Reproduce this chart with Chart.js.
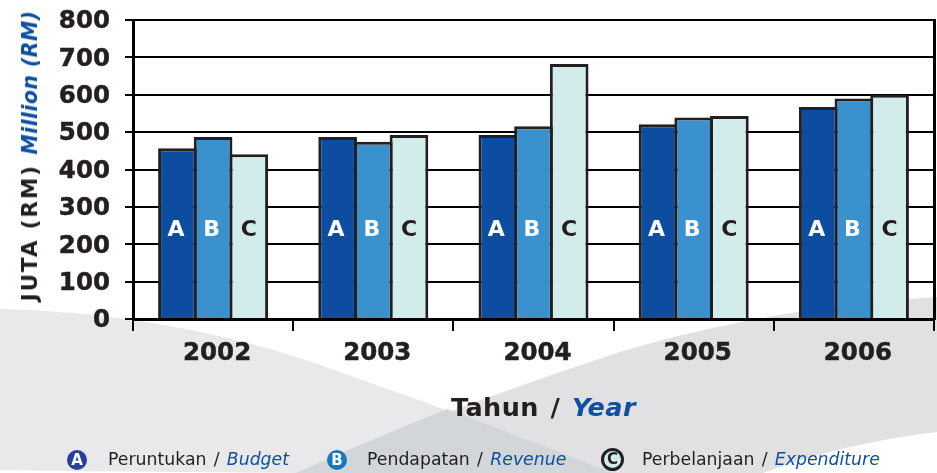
<!DOCTYPE html>
<html>
<head>
<meta charset="utf-8">
<title>Peruntukan, Pendapatan, Perbelanjaan</title>
<script src="https://cdn.jsdelivr.net/npm/chart.js@4/dist/chart.umd.min.js"></script>
<style>
  html, body { margin: 0; padding: 0; background: #fff; }
  body { width: 937px; height: 473px; position: relative; overflow: hidden; font-family: "DejaVu Sans", sans-serif; color: #231f20; }
  #bg, #chart, .txt { position: absolute; }
  #bg { left: 0; top: 0; }
  #chart { left: 0; top: 0; }
  .blue { color: #0d4fa0; font-style: italic; }
  .txt { white-space: pre; }
  #xTitle { left: 451px; top: 391px; font-size: 25.5px; font-weight: bold; line-height: 32px; word-spacing: 2.5px; letter-spacing: 0.4px; }
  #yTitle { left: 30px; top: 156px; font-size: 21.5px; font-weight: bold; line-height: 28px; transform: translate(-50%, -50%) rotate(-90deg); letter-spacing: 1.9px; }
  #yTitle .blue { font-size: 20.5px; letter-spacing: 0.4px; }
  .leg { top: 449px; font-size: 17.3px; line-height: 21px; word-spacing: 1.8px; }
  .badge { position: absolute; top: 450px; width: 20px; height: 20px; border-radius: 50%; font-size: 15px; font-weight: bold; line-height: 20px; text-align: center; color: #fff; box-sizing: border-box; }
</style>
</head>
<body>
<svg id="bg" width="937" height="473">
  <path fill="#e9e9eb" d="M0 309 C 130 312 250 338 340 372 C 430 404 530 440 612 473 L 296 473 C 200 472 90 472 0 470 Z"/>
  <path fill="#e1e1e4" d="M296 473 C 400 428 500 392 620 352 C 710 324 830 303 937 297 L 937 432 C 870 440 810 455 763 473 Z"/>
  <path fill="#d3d6d9" d="M296 473 C 345 451 400 428 447 409 C 500 430 560 451 612 473 Z"/>
</svg>
<canvas id="chart" width="937" height="473"></canvas>
<div class="txt" id="yTitle">JUTA (RM) <span class="blue">Million (RM)</span></div>
<div class="txt" id="xTitle">Tahun / <span class="blue">Year</span></div>
<div class="badge" style="left:67px;background:#2a3f98">A</div>
<div class="txt leg" style="left:108px">Peruntukan / <span class="blue">Budget</span></div>
<div class="badge" style="left:327px;background:#1778c0">B</div>
<div class="txt leg" style="left:367px">Pendapatan / <span class="blue">Revenue</span></div>
<div class="badge" style="left:601px;width:23px;height:23px;top:448px;background:#d2ecec;border:3px solid #231f20;color:#231f20;line-height:17px">C</div>
<div class="txt leg" style="left:642px">Perbelanjaan / <span class="blue">Expenditure</span></div>
<script>
const years = ["2002", "2003", "2004", "2005", "2006"];
const budget = [457, 487, 492, 521, 567];
const revenue = [487, 474, 516, 539, 590];
const expenditure = [441, 492, 682, 543, 600];
const seriesNames = ["Peruntukan / Budget", "Pendapatan / Revenue", "Perbelanjaan / Expenditure"];
const barLetters = ["A", "B", "C"];
const letterColors = ["#fff", "#fff", "#231f20"];
const letterValue = 238;
const INK = "#231f20";

// letters inside every bar, at the same height
const barLetterPlugin = {
  id: "barLetters",
  afterDatasetsDraw(chart) {
    const ctx = chart.ctx;
    const yPos = chart.scales.y.getPixelForValue(letterValue);
    ctx.save();
    ctx.font = "bold 22px 'DejaVu Sans'";
    ctx.textAlign = "center";
    ctx.textBaseline = "middle";
    chart.data.datasets.forEach((ds, i) => {
      ctx.fillStyle = letterColors[i];
      chart.getDatasetMeta(i).data.forEach(bar => ctx.fillText(barLetters[i], bar.x - (i === 2 ? 0 : 1.5), yPos));
    });
    ctx.restore();
  }
};

function makeSet(label, data, color) {
  return {
    label, data,
    backgroundColor: color,
    borderColor: INK,
    borderWidth: 3,
    borderSkipped: "bottom",
    categoryPercentage: 0.668,
    barPercentage: 1.084
  };
}

const tickFont = { family: "DejaVu Sans", size: 24.5, weight: "bold" };

new Chart(document.getElementById("chart").getContext("2d"), {
  type: "bar",
  data: {
    labels: years,
    datasets: [
      makeSet(seriesNames[0], budget, "#0c4da2"),
      makeSet(seriesNames[1], revenue, "#3b90ce"),
      makeSet(seriesNames[2], expenditure, "#d2ecec")
    ]
  },
  options: {
    responsive: false,
    animation: false,
    layout: { padding: { top: 20, right: 3, left: 0, bottom: 0 } },
    plugins: { legend: { display: false }, tooltip: { enabled: false } },
    scales: {
      x: {
        afterFit: s => { s.height = 154; s.paddingLeft = 0; s.paddingRight = 0; },
        grid: { drawOnChartArea: false, color: "#000", lineWidth: 2, tickLength: 12 },
        border: { color: "#000", width: 3, z: 1 },
        ticks: { color: INK, font: tickFont, padding: 8, labelOffset: 4, maxRotation: 0, textStrokeColor: INK, textStrokeWidth: 0.5 }
      },
      y: {
        min: 0, max: 800,
        // tick padding would otherwise push the plot top down
        afterFit: s => { s.width = 133; s.paddingTop = 0; s.paddingBottom = 0; },
        grid: { color: "#000", lineWidth: 2, tickLength: 8 },
        border: { color: "#000", width: 3, z: 1 },
        ticks: { stepSize: 100, color: INK, font: tickFont, padding: 15, labelOffset: 2, textStrokeColor: INK, textStrokeWidth: 0.5 }
      },
      yRight: {
        position: "right",
        min: 0, max: 800,
        afterFit: s => { s.width = 0; s.paddingTop = 0; s.paddingBottom = 0; },
        grid: { drawOnChartArea: false, drawTicks: false },
        border: { color: "#000", width: 3 },
        ticks: { display: false }
      }
    }
  },
  plugins: [barLetterPlugin]
});
</script>
</body>
</html>
